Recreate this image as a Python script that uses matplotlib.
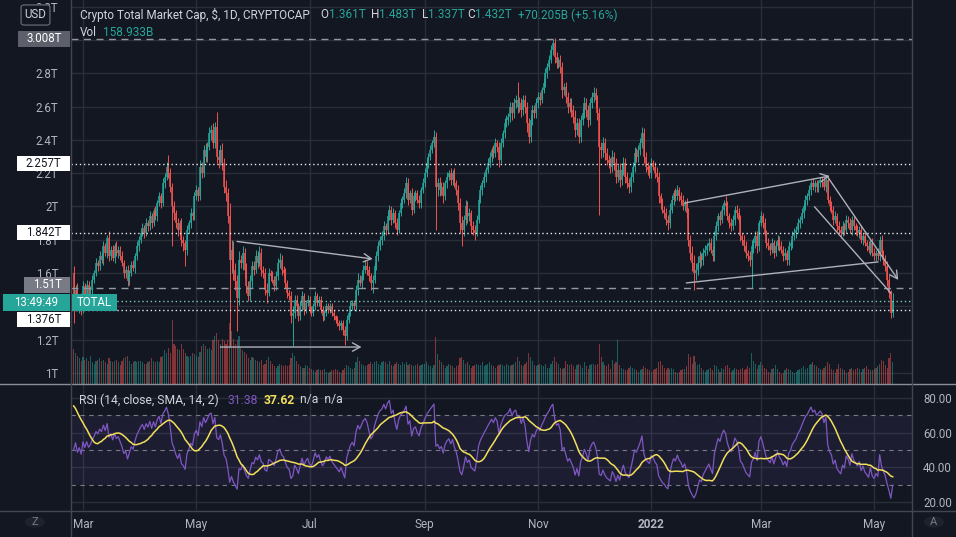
import numpy as np
import pandas as pd
import matplotlib
matplotlib.use("Agg")
import matplotlib.pyplot as plt
from matplotlib.transforms import blended_transform_factory
from matplotlib.lines import Line2D
from matplotlib.patches import Rectangle, Circle, FancyBboxPatch
from matplotlib.ticker import FuncFormatter

plt.rcParams['font.family'] = ['Roboto', 'DejaVu Sans']

# ---------------- data (TOTAL crypto market cap, trillions USD, daily) ----------------
start_date = "2021-02-24"
axis_origin = "2021-03-01"
first_open = 1.60

c_2021_02 = [1.42, 1.50, 1.40, 1.45, 1.38]
c_2021_03 = [1.52, 1.46, 1.53, 1.47, 1.50, 1.56, 1.60, 1.66, 1.64, 1.70, 1.68, 1.76, 1.72, 1.81, 1.70, 1.74,
             1.69, 1.76, 1.72, 1.74, 1.70, 1.66, 1.60, 1.62, 1.55, 1.60, 1.65, 1.63, 1.70, 1.76, 1.80]
c_2021_04 = [1.84, 1.87, 1.84, 1.90, 1.88, 1.94, 1.90, 1.97, 1.94, 2.02, 2.06, 2.02, 2.14, 2.18, 2.24, 2.20,
             2.12, 2.00, 1.96, 1.90, 1.86, 1.90, 1.80, 1.78, 1.74, 1.86, 1.90, 1.96, 1.94, 2.06]
c_2021_05 = [2.10, 2.06, 2.24, 2.20, 2.34, 2.30, 2.36, 2.44, 2.46, 2.38, 2.48, 2.30, 2.28, 2.34, 2.26, 2.12,
             2.08, 1.94, 1.68, 1.74, 1.62, 1.55, 1.45, 1.68, 1.66, 1.72, 1.62, 1.52, 1.46, 1.55, 1.64]
c_2021_06 = [1.62, 1.70, 1.66, 1.72, 1.62, 1.60, 1.50, 1.48, 1.60, 1.58, 1.56, 1.52, 1.58, 1.66, 1.68, 1.62,
             1.60, 1.54, 1.48, 1.46, 1.34, 1.36, 1.44, 1.40, 1.34, 1.40, 1.46, 1.38, 1.42, 1.44]
c_2021_07 = [1.38, 1.36, 1.40, 1.46, 1.42, 1.44, 1.38, 1.34, 1.36, 1.40, 1.38, 1.40, 1.36, 1.34, 1.32, 1.30,
             1.28, 1.30, 1.26, 1.22, 1.32, 1.36, 1.40, 1.42, 1.40, 1.50, 1.56, 1.54, 1.58, 1.62, 1.64]
c_2021_08 = [1.62, 1.58, 1.54, 1.56, 1.64, 1.70, 1.76, 1.80, 1.82, 1.88, 1.86, 1.94, 1.98, 1.92, 1.96, 1.90,
             1.86, 1.96, 2.02, 2.04, 2.08, 2.14, 2.04, 2.08, 1.98, 2.06, 2.08, 2.04, 2.02, 2.10, 2.14]
c_2021_09 = [2.20, 2.26, 2.30, 2.34, 2.38, 2.42, 2.12, 2.14, 2.10, 2.12, 2.06, 2.14, 2.18, 2.20, 2.16, 2.20,
             2.14, 2.10, 2.02, 1.90, 1.86, 1.92, 2.00, 1.94, 1.96, 1.88, 1.86, 1.84, 1.92, 2.04]
c_2021_10 = [2.10, 2.14, 2.18, 2.22, 2.26, 2.30, 2.34, 2.32, 2.38, 2.36, 2.28, 2.38, 2.44, 2.50, 2.52, 2.54,
             2.60, 2.56, 2.62, 2.64, 2.60, 2.62, 2.58, 2.64, 2.60, 2.50, 2.42, 2.52, 2.58, 2.56, 2.62]
c_2021_11 = [2.66, 2.64, 2.70, 2.74, 2.80, 2.84, 2.88, 2.94, 2.98, 2.90, 2.86, 2.88, 2.84, 2.70, 2.72, 2.66,
             2.60, 2.62, 2.58, 2.54, 2.46, 2.50, 2.42, 2.52, 2.56, 2.62, 2.58, 2.52, 2.62, 2.66]
c_2021_12 = [2.68, 2.64, 2.56, 2.36, 2.34, 2.38, 2.32, 2.28, 2.26, 2.24, 2.30, 2.26, 2.18, 2.22, 2.16, 2.22,
             2.26, 2.18, 2.14, 2.12, 2.18, 2.24, 2.32, 2.30, 2.34, 2.38, 2.44, 2.30, 2.24, 2.22, 2.20]
c_2022_01 = [2.26, 2.24, 2.20, 2.18, 2.06, 2.02, 1.98, 1.96, 1.92, 1.90, 1.98, 2.04, 2.08, 2.06, 2.10, 2.06,
             2.04, 2.00, 2.02, 1.96, 1.80, 1.72, 1.66, 1.60, 1.62, 1.66, 1.70, 1.68, 1.72, 1.74, 1.76]
c_2022_02 = [1.78, 1.74, 1.70, 1.82, 1.88, 1.94, 1.92, 1.98, 2.02, 2.00, 1.94, 1.90, 1.88, 1.92, 1.98, 1.96,
             1.92, 1.82, 1.80, 1.76, 1.72, 1.70, 1.68, 1.76, 1.78, 1.82, 1.76, 1.90]
c_2022_03 = [1.94, 1.90, 1.84, 1.78, 1.76, 1.74, 1.78, 1.72, 1.76, 1.80, 1.76, 1.74, 1.70, 1.72, 1.68, 1.76,
             1.78, 1.82, 1.84, 1.86, 1.90, 1.92, 1.96, 2.00, 2.04, 2.06, 2.10, 2.14, 2.12, 2.14, 2.12]
c_2022_04 = [2.14, 2.16, 2.15, 2.12, 2.16, 2.04, 2.00, 1.98, 1.92, 1.94, 1.88, 1.86, 1.84, 1.88, 1.86, 1.92,
             1.90, 1.86, 1.92, 1.88, 1.86, 1.84, 1.86, 1.80, 1.82, 1.78, 1.76, 1.74, 1.78, 1.72]
c_2022_05 = [1.70, 1.72, 1.70, 1.80, 1.72, 1.68, 1.64, 1.56, 1.48, 1.361, 1.432]

# wick beyond the body, in hundredths of a trillion
wick_hi = [4, 3, 4, 2, 3,
           3, 2, 3, 2, 2, 3, 2, 3, 2, 3, 2, 3, 2, 2, 4, 2, 3, 2, 3, 2, 2, 3, 2, 2, 3, 2, 2, 3, 2, 3, 2,
           2, 3, 2, 3, 2, 3, 2, 2, 3, 2, 3, 2, 3, 2, 3, 7, 3, 2, 3, 2, 3, 2, 3, 2, 2, 3, 2, 3, 2, 3,
           3, 2, 4, 3, 3, 4, 3, 4, 3, 4, 3, 9, 4, 3, 4, 3, 4, 3, 8, 6, 5, 4, 4, 5, 3, 4, 3, 4, 3, 4, 3,
           3, 4, 3, 4, 3, 2, 3, 4, 3, 2, 3, 2, 3, 3, 4, 3, 2, 3, 2, 2, 3, 4, 3, 3, 2, 3, 3, 2, 2, 3,
           2, 2, 2, 3, 2, 2, 2, 2, 2, 2, 2, 2, 2, 2, 1, 2, 2, 2, 2, 2, 3, 2, 3, 2, 2, 3, 4, 3, 3, 3, 4,
           3, 2, 2, 3, 2, 3, 3, 2, 3, 3, 2, 3, 3, 2, 3, 2, 3, 2, 3, 2, 3, 4, 3, 2, 3, 3, 2, 2, 3, 2, 3,
           3, 3, 2, 3, 2, 4, 3, 3, 4, 3, 3, 2, 3, 2, 3, 2, 3, 2, 3, 3, 4, 3, 4, 3, 3, 2, 3, 3, 3, 3,
           3, 2, 3, 2, 3, 3, 2, 3, 3, 2, 3, 3, 2, 3, 3, 2, 3, 3, 3, 3, 11, 4, 3, 3, 3, 3, 3, 3, 3, 3, 3,
           3, 3, 2, 3, 3, 2, 3, 3, 2.8, 3, 3, 2, 3, 3, 2, 3, 3, 3, 3, 3, 4, 3, 3, 3, 3, 4, 3, 3, 3, 3,
           4, 3, 3, 3, 3, 4, 3, 3, 3, 3, 4, 3, 3, 3, 4, 3, 4, 3, 3, 3, 3, 3, 4, 3, 3, 3, 4, 3, 3, 3, 3,
           3, 2, 3, 4, 3, 2, 3, 2, 3, 3, 4, 3, 2, 3, 3, 2, 3, 3, 2, 3, 3, 3, 4, 5, 4, 4, 3, 2, 3, 3, 2,
           3, 3, 2, 3, 3, 2, 3, 3, 2, 4, 3, 2, 3, 3, 2, 3, 3, 3, 2, 3, 3, 2, 3, 4, 3, 3, 3, 2,
           3, 2, 3, 2, 3, 2, 3, 2, 3, 3, 2, 3, 2, 3, 2, 3, 2, 3, 3, 2, 3, 2, 3, 2, 3, 2, 3, 2, 3, 2, 2,
           2, 2, 2, 3, 1, 3, 2, 3, 2, 3, 2, 3, 2, 3, 2, 3, 2, 3, 2, 3, 2, 3, 2, 3, 2, 3, 2, 3, 2, 3,
           3, 2, 3, 2, 3, 2, 3, 3, 3, 2, 5.1]
wick_lo = [12, 4, 3, 4, 3,
           2, 3, 2, 4, 2, 3, 2, 2, 3, 2, 2, 3, 2, 3, 3, 2, 2, 3, 2, 3, 2, 2, 3, 3, 3, 2, 2, 2, 3, 2, 3,
           2, 2, 3, 2, 3, 2, 3, 2, 2, 3, 2, 3, 2, 3, 2, 3, 3, 24, 4, 3, 4, 3, 4, 5, 10, 3, 2, 3, 2, 2,
           2, 3, 2, 3, 2, 3, 3, 2, 4, 3, 3, 4, 5, 3, 4, 4, 5, 4, 52, 8, 6, 5, 20, 4, 3, 4, 5, 4, 3, 3, 4,
           3, 2, 3, 2, 4, 3, 3, 6, 2, 3, 2, 3, 2, 2, 3, 3, 2, 3, 3, 2, 4, 18, 3, 3, 3, 2, 3, 3, 2, 2,
           2, 2, 2, 2, 2, 2, 2, 3, 2, 2, 2, 2, 2, 2, 2, 2, 2, 2, 3, 5, 2, 2, 2, 2, 2, 3, 3, 2, 3, 2, 2,
           3, 3, 4, 6, 2, 2, 3, 2, 3, 2, 3, 2, 2, 3, 2, 3, 3, 2, 2, 3, 2, 3, 3, 2, 3, 2, 3, 2, 3, 3, 2,
           2, 2, 3, 2, 2, 2, 26, 6, 4, 3, 4, 2, 3, 2, 3, 3, 2, 3, 4, 6, 10, 4, 3, 4, 3, 4, 3, 4, 2, 2,
           2, 3, 2, 3, 2, 2, 3, 3, 2, 3, 4, 2, 2, 3, 2, 3, 3, 4, 3, 3, 4, 3, 4, 3, 4, 5, 4, 3, 3, 3, 3,
           3, 3, 2, 2, 2, 3, 2, 2, 3, 4, 3, 3, 4, 5, 3, 4, 4, 3, 4, 4, 4, 3, 4, 3, 3, 3, 4, 4, 3, 3,
           3, 4, 4, 41, 5, 4, 4, 3, 3, 4, 3, 4, 4, 3, 4, 3, 3, 4, 3, 4, 3, 3, 3, 3, 3, 3, 3, 4, 3, 3, 3,
           3, 2, 3, 3, 4, 3, 2, 3, 3, 4, 3, 2, 3, 3, 2, 3, 3, 2, 3, 3, 4, 4, 5, 10, 4, 3, 3, 4, 3, 2, 3,
           3, 2, 3, 3, 2, 3, 3, 2, 3, 3, 2, 3, 3, 2, 3, 3, 2, 3, 3, 3, 3, 3, 4, 17, 4, 3, 4, 3,
           2, 3, 2, 3, 2, 3, 2, 3, 2, 2, 3, 2, 3, 2, 3, 3, 2, 3, 2, 3, 2, 3, 2, 3, 2, 3, 2, 3, 2, 3, 3,
           3, 2, 3, 2, 3, 2, 3, 2, 3, 2, 3, 2, 3, 2, 3, 2, 3, 2, 3, 2, 3, 2, 3, 2, 3, 2, 3, 2, 3, 2,
           2, 3, 2, 3, 2, 3, 3, 4, 3, 2.8, 2.4]

# daily volume, billions USD
volume_b = [260, 230, 210, 190, 170,
            200, 180, 190, 170, 210, 160, 150, 170, 180, 190, 170, 180, 160, 150, 190, 170, 160, 170, 180, 160,
            140, 170, 190, 200, 210, 170, 150, 160, 170, 160, 170,
            170, 160, 150, 150, 160, 170, 190, 170, 160, 170, 160, 200, 210, 250, 230, 270, 230, 480, 300, 280,
            260, 250, 300, 260, 230, 210, 200, 210, 230, 220,
            210, 200, 240, 280, 300, 280, 260, 270, 250, 330, 360, 380, 330, 300, 340, 320, 300, 330, 460, 400,
            340, 300, 330, 360, 270, 250, 240, 220, 190, 180, 200,
            190, 180, 170, 160, 180, 140, 150, 180, 200, 170, 150, 130, 120, 130, 150, 140, 130, 140, 130, 140,
            190, 230, 210, 170, 150, 130, 120, 120, 140, 130,
            120, 110, 100, 90, 100, 110, 100, 100, 110, 90, 80, 90, 100, 100, 110, 100, 90, 80, 100, 120,
            140, 130, 120, 110, 120, 160, 200, 170, 150, 140, 130,
            140, 150, 160, 150, 160, 170, 150, 140, 160, 170, 160, 150, 170, 140, 130, 150, 160, 150, 140, 160,
            150, 160, 140, 150, 140, 130, 140, 150, 130, 140, 150,
            150, 160, 140, 130, 120, 140, 350, 220, 180, 160, 140, 120, 130, 150, 140, 130, 120, 130, 140, 190,
            200, 180, 150, 160, 140, 120, 130, 140, 150, 140,
            140, 160, 130, 140, 150, 160, 140, 130, 120, 130, 140, 150, 140, 130, 150, 140, 130, 140, 150, 160,
            200, 170, 140, 130, 150, 160, 230, 200, 170, 140, 130,
            140, 150, 140, 130, 150, 120, 120, 150, 170, 200, 160, 150, 120, 110, 120, 170, 150, 140, 150, 130,
            110, 140, 150, 140, 120, 160, 130, 110, 140, 150,
            150, 140, 150, 300, 200, 160, 140, 130, 150, 110, 180, 150, 160, 330, 140, 120, 110, 100, 100, 120,
            130, 120, 110, 100, 90, 100, 110, 130, 120, 110, 100,
            90, 100, 110, 120, 160, 170, 140, 120, 100, 120, 110, 120, 110, 90, 80, 90, 100, 110, 110, 130,
            220, 200, 150, 210, 160, 140, 150, 120, 100, 90, 100,
            110, 120, 100, 140, 130, 110, 90, 120, 110, 130, 140, 120, 90, 100, 120, 110, 100, 110, 120, 100,
            110, 130, 120, 230, 170, 150, 110, 140,
            160, 140, 120, 110, 90, 80, 110, 120, 140, 110, 90, 70, 80, 100, 120, 110, 100, 90, 80, 90,
            100, 110, 120, 130, 110, 120, 140, 150, 160, 140, 130,
            120, 110, 100, 120, 130, 160, 150, 110, 100, 80, 110, 150, 120, 110, 100, 80, 90, 110, 120, 100,
            110, 120, 110, 90, 110, 120, 130, 110, 100, 100,
            110, 120, 130, 150, 180, 170, 140, 120, 190, 230, 159]

# closes before the visible range (Jan 25 - Feb 23 2021), only used to seed the RSI
warmup_closes = [1.00, 1.02, 0.98, 1.04, 1.07, 1.04, 1.09, 1.12, 1.10, 1.18, 1.21, 1.19, 1.28, 1.33, 1.30,
                 1.40, 1.42, 1.39, 1.50, 1.52, 1.48, 1.58, 1.62, 1.60, 1.70, 1.74, 1.71, 1.80, 1.70, 1.60]

# horizontal price levels drawn on the chart
level_dashed = [3.008, 1.51]
level_dotted = [2.257, 1.842, 1.376]

# trend-line drawings: (start date, start price, end date, end price, arrow)
drawings = [
    ("2021-05-23", 1.790, "2021-08-04", 1.685, True),
    ("2021-05-14", 1.156, "2021-07-29", 1.156, True),
    ("2022-01-19", 2.021, "2022-04-07", 2.183, True),
    ("2022-01-20", 1.541, "2022-05-03", 1.667, False),
    ("2022-04-06", 2.177, "2022-05-14", 1.559, True),
    ("2022-03-30", 1.997, "2022-05-10", 1.480, False),
]

tick_dates = ["2021-03-01", "2021-05-01", "2021-07-01", "2021-09-01", "2021-11-01",
              "2022-01-01", "2022-03-01", "2022-05-01"]
tick_labels = ["Mar", "May", "Jul", "Sep", "Nov", "2022", "Mar", "May"]
price_ticks = [1.0, 1.2, 1.4, 1.6, 1.8, 2.0, 2.2, 2.4, 2.6, 2.8, 3.0, 3.2]
price_ticks_hidden = [1.4, 3.0]          # covered by price labels in the reference
rsi_ticks = [20, 40, 60, 80]

# ---------------- derived series ----------------
closes = np.array(c_2021_02 + c_2021_03 + c_2021_04 + c_2021_05 + c_2021_06 + c_2021_07 + c_2021_08 +
                  c_2021_09 + c_2021_10 + c_2021_11 + c_2021_12 + c_2022_01 + c_2022_02 + c_2022_03 +
                  c_2022_04 + c_2022_05)
n = min(len(closes), len(wick_hi), len(wick_lo), len(volume_b))
closes = closes[:n]
opens = np.r_[first_open, closes[:-1]]
whi = np.array(wick_hi[:n], float) / 100
wlo = np.array(wick_lo[:n], float) / 100
vols = np.array(volume_b[:n], float)
highs = np.maximum(opens, closes) + whi
lows = np.minimum(opens, closes) - wlo
origin = pd.Timestamp(axis_origin)
dates = pd.date_range(start_date, periods=n, freq="D")
days = np.asarray((dates - origin).days, float)


def day_of(s):
    return (pd.Timestamp(s) - origin).days


# RSI(14) with Wilder smoothing and its SMA(14)
full = np.r_[warmup_closes, closes]
ch = np.diff(full, prepend=np.nan)
g = np.where(ch > 0, ch, 0.0)
l = np.where(ch < 0, -ch, 0.0)
N = 14
ag = np.full(len(full), np.nan)
al = np.full(len(full), np.nan)
ag[N] = g[1:N + 1].mean()
al[N] = l[1:N + 1].mean()
for i in range(N + 1, len(full)):
    ag[i] = (ag[i - 1] * (N - 1) + g[i]) / N
    al[i] = (al[i - 1] * (N - 1) + l[i]) / N
with np.errstate(divide='ignore', invalid='ignore'):
    rsi_full = 100 - 100 / (1 + ag / al)
rsi_sma_full = pd.Series(rsi_full).rolling(14).mean().values
rsi = rsi_full[len(warmup_closes):]
rsi_sma = rsi_sma_full[len(warmup_closes):]

# ---------------- style ----------------
BG = '#131722'
GRID = '#2a2e39'
TXT = '#b2b5be'
HDR = '#d1d4dc'
UP = '#26a69a'
DN = '#ef5350'
W, H = 956, 537

fig = plt.figure(figsize=(W / 100, H / 100), dpi=100, facecolor=BG)


def rect(x0, y0, x1, y1):
    return [x0 / W, 1 - y1 / H, (x1 - x0) / W, (y1 - y0) / H]


ax = fig.add_axes(rect(70.7, 0, 912, 383.5), facecolor=BG)
axr = fig.add_axes(rect(70.7, 385, 912, 510), facecolor=BG)

x_left, x_right = -6.6, 446.4
for a in (ax, axr):
    a.set_xlim(x_left, x_right)
    for s in a.spines.values():
        s.set_visible(False)
    a.set_axisbelow(True)

ax.set_ylim(0.937, 3.240)
axr.set_ylim(15.4, 87.5)

tick_days = [day_of(d) for d in tick_dates]


def price_fmt(v, p):
    if any(abs(v - h) < 1e-6 for h in price_ticks_hidden):
        return ""
    return ("%.1f" % v).rstrip('0').rstrip('.') + "T"


# grid
ax.set_yticks(price_ticks)
ax.set_xticks(tick_days)
ax.grid(True, color=GRID, lw=1.0)
ax.yaxis.set_major_formatter(FuncFormatter(price_fmt))
ax.tick_params(axis='y', length=0, pad=9, labelsize=8.3, labelcolor=TXT)
ax.tick_params(axis='x', length=0, labelbottom=False)

axr.set_yticks(rsi_ticks)
axr.set_xticks(tick_days)
axr.grid(True, color=GRID, lw=1.0)
axr.yaxis.tick_right()
axr.yaxis.set_major_formatter(FuncFormatter(lambda v, p: "%.2f" % v))
axr.tick_params(axis='y', length=0, pad=8, labelsize=8.3, labelcolor=TXT)
axr.set_xticklabels(tick_labels)
axr.tick_params(axis='x', length=0, pad=6, labelsize=8.5, labelcolor=TXT)
for i, t in enumerate(axr.get_xticklabels()):
    if tick_labels[i].isdigit():
        t.set_fontweight('bold')

# volume (overlay at the bottom of the price pane)
vol_top = 2900.0
col = np.where(closes >= opens, UP, DN)
vtr = blended_transform_factory(ax.transData, ax.transAxes)
ax.bar(days, vols / vol_top, width=0.62, bottom=0, color=col, alpha=0.5, transform=vtr, zorder=1, lw=0)

# candles
ax.vlines(days, lows, highs, colors=col, lw=0.7, zorder=3)
blo = np.minimum(opens, closes)
bhi = np.maximum(np.maximum(opens, closes), blo + 0.004)
ax.vlines(days, blo, bhi, colors=col, lw=1.1, zorder=3)

# price level lines
for v in level_dashed:
    ax.axhline(v, color='#9598a1', lw=1.0, dashes=(5, 4), zorder=4)
for v in level_dotted:
    ax.axhline(v, color='#e8e9ec', lw=1.0, dashes=(1, 2), zorder=4)
ax.axhline(closes[-1], color='#7cc7be', lw=1.0, dashes=(1, 2), zorder=4)

# drawings
for d0, p0, d1, p1, arrow in drawings:
    c = '#aeb1ba'
    if arrow:
        ax.annotate("", xy=(day_of(d1), p1), xytext=(day_of(d0), p0),
                    arrowprops=dict(arrowstyle='->,head_length=0.55,head_width=0.3', color=c, lw=1.0,
                                    shrinkA=0, shrinkB=0), zorder=6)
    else:
        ax.plot([day_of(d0), day_of(d1)], [p0, p1], color=c, lw=1.0, zorder=6)

# RSI pane
axr.axhspan(30, 70, color='#7e57c2', alpha=0.1, lw=0)
for lv in (70, 50, 30):
    axr.axhline(lv, color='#787b86', lw=0.8, dashes=(4, 4))
axr.plot(days, rsi, color='#7e57c2', lw=0.9, zorder=3)
axr.plot(days, rsi_sma, color='#f2df5c', lw=1.1, zorder=4)

# ---------------- overlays in figure pixels ----------------


def fx(x):
    return x / W


def fy(y):
    return 1 - y / H


def ypix(v):
    return H - ax.transData.transform((0, v))[1]


def box(x0, x1, yc, h, fc, text, tc, size=8.3, weight='normal', ec='none'):
    fig.patches.append(Rectangle((fx(x0), fy(yc + h / 2)), (x1 - x0) / W, h / H, transform=fig.transFigure,
                                 fc=fc, ec=ec, zorder=10))
    fig.text(fx((x0 + x1) / 2), fy(yc), text, ha='center', va='center', color=tc, fontsize=size,
             fontweight=weight, zorder=11)


box(18, 70, ypix(3.008), 16, '#5d606b', "3.008T", '#ffffff')
box(17, 70, ypix(2.257), 15, '#ffffff', "2.257T", '#131722')
box(17, 70, ypix(1.842), 15, '#ffffff', "1.842T", '#131722')
box(24, 70, ypix(1.51) - 3.5, 16, '#787b86', "1.51T", '#ffffff')
box(3, 70, ypix(closes[-1]) + 1.5, 17, '#26a69a', "13:49:49", '#ffffff')
box(72, 117, ypix(closes[-1]) + 1.5, 17, '#26a69a', "TOTAL", '#ffffff')
box(17, 70, ypix(1.376) + 9.5, 15, '#ffffff', "1.376T", '#131722')

# USD badge
fig.patches.append(FancyBboxPatch((fx(23), fy(24)), 25 / W, 18 / H, boxstyle='round,pad=0.002,rounding_size=0.004',
                                  transform=fig.transFigure, fc=BG, ec='#5d606b', lw=1.0, zorder=10))
fig.text(fx(35.5), fy(15), "USD", ha='center', va='center', color=HDR, fontsize=8.3, zorder=11)

# separators / pane borders
for (x0, y0, x1, y1, c) in [(0, 384.2, W, 384.2, '#8a8d96'), (0, 510.5, W, 510.5, '#434651'),
                            (70.7, 0, 70.7, H, '#434651'), (912, 0, 912, H, '#434651')]:
    fig.add_artist(Line2D([fx(x0), fx(x1)], [fy(y0), fy(y1)], transform=fig.transFigure, color=c, lw=1.0,
                          zorder=9))

# round buttons in the corners
for (cx, s) in [(35, "Z"), (934, "A")]:
    fig.patches.append(Circle((fx(cx), fy(522)), 10 / W, transform=fig.transFigure, fc='#1e222d',
                              ec='none', zorder=10))
    fig.text(fx(cx), fy(522), s, ha='center', va='center', color='#787b86', fontsize=8, zorder=11)

renderer = fig.canvas.get_renderer()


def fit(t, target):
    w = t.get_window_extent(renderer).width
    t.set_fontsize(t.get_fontsize() * target / w)


# header
t = fig.text(fx(80), fy(15), "Crypto Total Market Cap, $, 1D, CRYPTOCAP", color=HDR, fontsize=9, va='center')
fit(t, 232)
hs = t.get_fontsize()
for x, s, c in [(320, "O", HDR), (329, "1.361T", UP), (371, "H", HDR), (379, "1.483T", UP),
                (422, "L", HDR), (428, "1.337T", UP), (467, "C", HDR), (475, "1.432T", UP),
                (518, "+70.205B (+5.16%)", UP)]:
    fig.text(fx(x), fy(15), s, color=c, fontsize=hs, va='center')
fig.text(fx(80), fy(33), "Vol", color=HDR, fontsize=hs, va='center')
fig.text(fx(103), fy(33), "158.933B", color=UP, fontsize=hs, va='center')

# RSI legend
t2 = fig.text(fx(79), fy(400), "RSI (14, close, SMA, 14, 2)", color=HDR, fontsize=9, va='center')
fit(t2, 140)
rs = t2.get_fontsize()
fig.text(fx(228), fy(400), "31.38", color='#7e57c2', fontsize=rs, va='center')
fig.text(fx(264), fy(400), "37.62", color='#f2df5c', fontsize=rs, va='center', fontweight='bold')
fig.text(fx(300), fy(400), "n/a  n/a", color=HDR, fontsize=rs, va='center')

fig.savefig("out.png", dpi=100, facecolor=BG)
